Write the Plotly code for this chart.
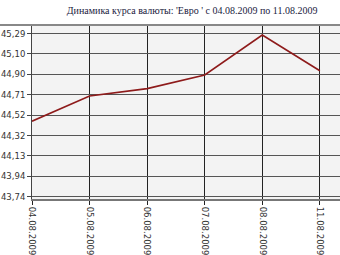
import plotly.graph_objects as go

dates = ["04.08.2009", "05.08.2009", "06.08.2009", "07.08.2009", "08.08.2009", "11.08.2009"]
rates = [44.46, 44.70, 44.77, 44.90, 45.28, 44.94]
ytick_vals = [43.74, 43.935, 44.13, 44.32, 44.515, 44.71, 44.905, 45.10, 45.29]
ytick_text = ["43,74", "43,94", "44,13", "44,32", "44,52", "44,71", "44,90", "45,10", "45,29"]
title_text = "Динамика курса валюты: 'Евро ' с 04.08.2009 по 11.08.2009"

fig = go.Figure()
fig.add_trace(go.Scatter(
    x=list(range(len(dates))), y=rates, mode="lines",
    line=dict(color="#8e1b1b", width=1.6), hoverinfo="skip"))

fig.update_layout(
    width=340, height=255,
    margin=dict(l=32, r=0, t=25, b=56),
    paper_bgcolor="white", plot_bgcolor="#f3f3f3",
    showlegend=False,
    title=dict(text=title_text, x=0.565, xanchor="center", y=0.958, yanchor="middle",
               font=dict(family="Liberation Serif", size=10, color="#1a1a40")),
    xaxis=dict(
        tickmode="array", tickvals=list(range(len(dates))), ticktext=dates,
        range=[0, 5.35], tickangle=90, showgrid=True, gridcolor="#222222", gridwidth=1,
        ticks="outside", ticklen=4, tickcolor="#222222", zeroline=False,
        showline=True, linecolor="#777777", linewidth=2,
        tickfont=dict(family="DejaVu Sans", size=8.5, color="#333333")),
    yaxis=dict(
        tickmode="array", tickvals=ytick_vals, ticktext=ytick_text,
        range=[43.72, 45.375], showgrid=True, gridcolor="#555555", gridwidth=1,
        ticks="outside", ticklen=4, tickcolor="#444444", zeroline=False,
        showline=True, linecolor="#444444", linewidth=1,
        tickfont=dict(family="DejaVu Sans", size=8.5, color="#333333")),
)
fig.add_shape(type="line", xref="paper", yref="paper", x0=-0.11, x1=1, y0=1, y1=1,
              line=dict(color="#888888", width=2))
fig.write_html("out.html")
